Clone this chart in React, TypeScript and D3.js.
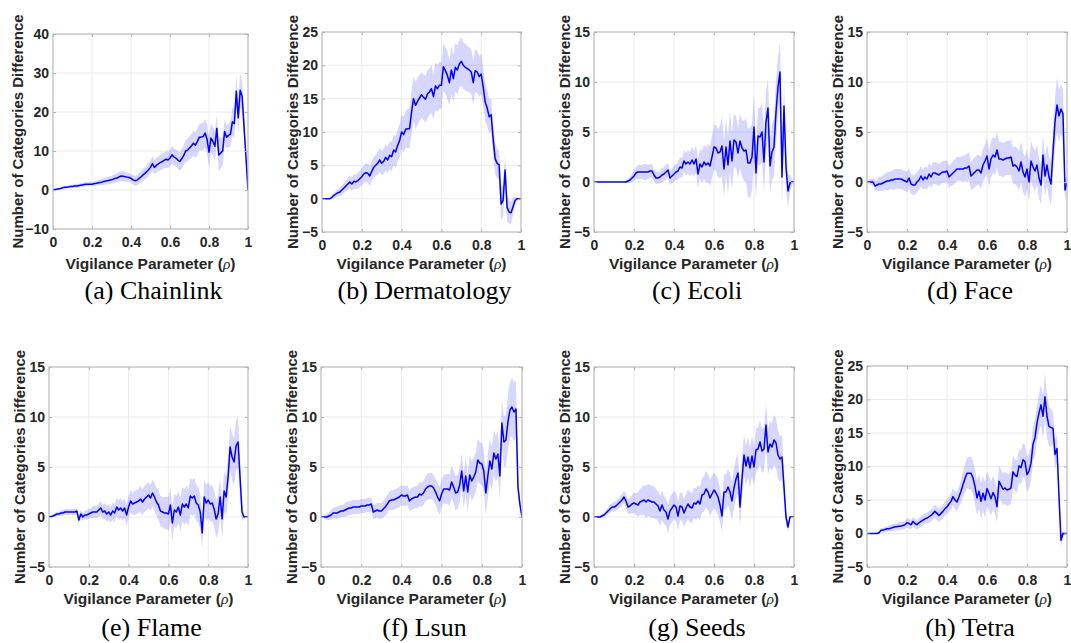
import React, { useEffect, useRef } from 'react';
import * as d3 from 'd3';

// vigilance grid, 0..1 in steps of 0.01
const rho = d3.range(0, 101).map(i => i / 100);

const xTicks = [0, 0.2, 0.4, 0.6, 0.8, 1];

// mean difference and std for each dataset
const chainlinkMean = [
  0, 0.1, 0.2, 0.3, 0.4, 0.6, 0.7, 0.7, 0.8, 0.9,
  0.9, 1.0, 1.0, 1.1, 1.2, 1.3, 1.4, 1.5, 1.5, 1.5,
  1.5, 1.6, 1.7, 1.8, 1.9, 2.0, 2.2, 2.3, 2.4, 2.5,
  2.6, 2.8, 3.0, 3.1, 3.4, 3.6, 3.5, 3.4, 3.3, 3.2,
  3.0, 2.6, 2.4, 2.5, 2.9, 3.3, 3.8, 4.2, 4.7, 5.2,
  5.8, 6.8, 5.8, 6.3, 6.7, 7.0, 7.3, 7.6, 7.9, 7.7,
  8.2, 9.0, 8.5, 8.2, 7.7, 7.3, 8.0, 8.8, 10.0, 10.2,
  10.8, 11.3, 12.0, 11.5, 12.4, 13.5, 13.6, 13.7, 14.6, 13.0,
  9.7, 13.3, 12.5, 11.2, 15.8, 9.0, 9.5, 10.0, 15.0, 13.5,
  14.0, 14.3, 17.5, 17.0, 25.3, 18.5, 25.6, 24.0, 16.0, 8.0,
  0,
];
const chainlinkStd = [
  0, 0.1, 0.2, 0.3, 0.3, 0.3, 0.4, 0.4, 0.4, 0.4,
  0.4, 0.4, 0.5, 0.5, 0.5, 0.5, 0.5, 0.5, 0.5, 0.5,
  0.5, 0.6, 0.6, 0.7, 0.7, 0.8, 0.8, 0.9, 0.9, 1.0,
  1.0, 1.1, 1.1, 1.2, 1.2, 1.3, 1.3, 1.2, 1.2, 1.1,
  1.1, 1.2, 1.3, 1.3, 1.4, 1.5, 1.5, 1.6, 1.6, 1.7,
  1.7, 1.8, 1.8, 1.9, 1.9, 2.0, 2.0, 2.0, 2.1, 2.1,
  2.2, 2.3, 2.2, 2.2, 2.3, 2.4, 2.5, 2.6, 2.8, 2.9,
  3.0, 3.1, 3.2, 3.3, 3.4, 3.4, 3.5, 3.5, 3.6, 3.8,
  4.0, 3.8, 3.6, 3.8, 3.5, 4.2, 4.0, 3.6, 3.2, 3.0,
  3.0, 3.2, 3.5, 3.8, 4.0, 4.2, 4.5, 4.0, 3.0, 1.5,
  0,
];

const dermatologyMean = [
  0, 0, 0, 0, 0, 0.2, 0.5, 0.7, 0.9, 1.0,
  1.3, 1.6, 1.9, 2.2, 2.5, 2.2, 2.6, 2.5, 2.7, 3.0,
  3.3, 3.7, 3.9, 3.8, 3.4, 4.1, 4.7, 5.0, 5.3, 5.8,
  5.3, 5.6, 6.2, 5.8, 6.5, 6.3, 7.3, 7.0, 8.0, 8.7,
  10.0, 9.6, 10.4, 10.5, 10.5, 13.0, 15.0, 14.0, 14.6, 15.1,
  15.6, 15.2, 14.9, 15.7, 16.0, 16.5, 15.3, 16.9, 16.5, 17.0,
  17.0, 19.8, 19.2, 18.5, 17.4, 19.3, 18.0, 19.7, 19.3, 20.2,
  20.6, 20.0, 19.7, 19.5, 19.3, 19.0, 17.4, 19.2, 19.0, 18.3,
  18.7, 16.8, 14.5, 13.6, 12.3, 12.6, 9.0, 6.0, 5.3, 5.1,
  -0.8, -0.3, 4.3, -1.3, -2.0, -2.1, -1.2, -0.3, 0, 0,
  0,
];
const dermatologyStd = [
  0, 0, 0, 0, 0.1, 0.3, 0.4, 0.5, 0.6, 0.6,
  0.7, 0.8, 0.8, 0.9, 1.0, 1.0, 1.1, 1.1, 1.2, 1.2,
  1.3, 1.3, 1.4, 1.4, 1.5, 1.5, 1.6, 1.6, 1.7, 1.8,
  1.8, 1.9, 2.0, 2.0, 2.1, 2.2, 2.3, 2.4, 2.4, 2.5,
  2.6, 2.7, 2.8, 2.9, 3.0, 3.2, 3.4, 3.5, 3.5, 3.5,
  3.4, 3.4, 3.5, 3.6, 3.5, 3.6, 3.4, 3.6, 3.5, 3.5,
  3.5, 3.6, 3.5, 3.6, 3.4, 3.6, 3.5, 3.6, 3.7, 3.6,
  3.6, 3.5, 3.5, 3.4, 3.4, 3.3, 3.3, 3.2, 3.2, 3.1,
  3.0, 2.9, 2.8, 2.7, 2.6, 2.5, 2.4, 2.3, 2.2, 2.1,
  2.5, 2.4, 2.2, 2.0, 1.8, 1.6, 1.3, 0.6, 0.1, 0,
  0,
];

const ecoliMean = [
  0, 0, 0, 0, 0, 0, 0, 0, 0, 0,
  0, 0, 0, 0, 0, 0, 0, 0.1, 0.2, 0.4,
  0.6, 0.9, 1.0, 1.0, 1.0, 1.0, 1.0, 1.0, 1.1, 1.1,
  0.7, 0.4, 0.4, 0.5, 0.7, 0.8, 1.0, 1.2, 0.4, 0.6,
  0.8, 1.0, 1.1, 1.5, 1.4, 2.1, 1.8, 2.0, 1.8, 2.2,
  1.8, 2.3, 0.8, 1.8, 1.5, 2.0, 1.7, 1.9, 1.6, 2.5,
  3.5, 3.4, 2.9, 3.0, 3.6, 1.3, 3.5, 1.7, 4.1, 2.1,
  4.2, 4.0, 2.9, 4.1, 3.4, 3.1, 3.2, 1.9, 1.9, 2.5,
  5.5, 0.9, 4.6, 4.5, 5.0, 2.0, 6.0, 7.4, 1.6, 3.0,
  3.5, 7.0, 9.5, 11.0, 0.5, 7.6, 1.5, -0.9, -0.1, 0,
  0,
];
const ecoliStd = [
  0, 0, 0, 0, 0, 0, 0, 0, 0, 0,
  0, 0, 0, 0, 0, 0, 0.1, 0.2, 0.3, 0.4,
  0.5, 0.6, 0.7, 0.7, 0.7, 0.8, 0.8, 0.7, 0.7, 0.7,
  0.6, 0.6, 0.6, 0.6, 0.7, 0.7, 0.8, 0.7, 0.7, 0.7,
  0.8, 0.8, 0.9, 1.0, 1.0, 1.1, 1.1, 1.2, 1.2, 1.3,
  1.3, 1.4, 1.4, 1.5, 1.6, 1.7, 1.8, 1.9, 2.0, 2.1,
  2.2, 2.3, 2.4, 2.6, 3.0, 2.8, 2.8, 2.9, 3.0, 2.8,
  2.6, 2.6, 2.5, 2.7, 2.8, 3.0, 3.2, 3.4, 3.5, 3.3,
  3.3, 2.6, 2.8, 2.9, 3.0, 3.1, 3.0, 3.0, 2.8, 2.8,
  2.9, 3.0, 3.0, 3.0, 2.6, 2.5, 2.2, 1.7, 0.8, 0.3,
  0,
];

const faceMean = [
  0, 0, 0, 0, -0.4, -0.3, -0.2, -0.2, -0.1, 0,
  0.1, 0.1, 0.2, 0.2, 0.3, 0.3, 0.3, 0.3, 0.2, 0.1,
  0, 0.4, -0.2, -0.3, -0.3, 0, 0.2, 0.6, 0.2, 0.5,
  0.3, 0.8, 0.5, 0.9, 0.9, 0.8, 0.7, 0.9, 1.0, 1.0,
  1.1, 0.5, 0.7, 0.9, 1.1, 1.3, 1.3, 1.3, 1.3, 1.4,
  1.4, 1.6, 0.6, 0.8, 1.0, 1.2, 1.2, 0.9, 1.7, 2.1,
  2.6, 1.3, 2.3, 2.7, 2.5, 3.2, 2.3, 2.3, 2.2, 2.3,
  2.4, 2.4, 2.5, 1.6, 1.7, 1.5, 1.1, 2.0, 1.0, 0.5,
  1.3, 0, 2.1, 1.5, 1.1, 1.7, 0.4, -0.3, 2.7, 0.6,
  1.7, 0.5, -0.2, 3.0, 6.0, 7.7, 6.6, 7.3, 6.8, -0.8,
  -0.1,
];
const faceStd = [
  0, 0.2, 0.3, 0.4, 0.5, 0.6, 0.7, 0.7, 0.8, 0.8,
  0.9, 0.9, 0.9, 1.0, 1.0, 1.0, 1.0, 1.0, 1.0, 1.0,
  1.0, 1.0, 1.0, 1.0, 1.0, 1.0, 1.0, 1.0, 1.0, 1.1,
  1.1, 1.1, 1.1, 1.1, 1.1, 1.1, 1.1, 1.1, 1.1, 1.1,
  1.1, 1.1, 1.1, 1.2, 1.2, 1.2, 1.2, 1.2, 1.3, 1.3,
  1.4, 1.4, 1.4, 1.5, 1.5, 1.5, 1.5, 1.6, 1.6, 1.7,
  1.8, 1.8, 1.8, 1.8, 1.8, 1.8, 1.7, 1.7, 1.7, 1.7,
  1.7, 1.7, 1.8, 1.8, 1.9, 1.9, 2.0, 2.0, 2.0, 2.0,
  2.0, 2.0, 2.0, 2.0, 2.0, 2.0, 2.0, 2.0, 2.0, 2.0,
  2.1, 2.1, 2.2, 2.3, 2.5, 2.7, 2.6, 2.5, 2.4, 1.2,
  0.6,
];

const flameMean = [
  0, 0.05, 0.1, 0.2, 0.3, 0.3, 0.4, 0.4, 0.5, 0.5,
  0.5, 0.5, 0.5, 0.5, 0.6, -0.3, 0.3, 0, 0.2, 0.2,
  0.3, 0.4, 0.5, 0.5, 0.5, 0.7, 0.9, 0.5, 0.6, 0.3,
  0.5, 0.2, 0.6, 0.4, 1.0, 0.7, 0.9, 0.6, 0.9, 0.2,
  1.0, 1.6, 1.3, 1.4, 1.5, 1.6, 1.8, 1.5, 1.8, 2.0,
  2.2, 1.9, 2.4, 2.0, 1.5, 1.2, 0.6, 0.5, 0.4, 0.4,
  0.3, 1.2, -0.6, 0.7, 0.5, 1.0, 0.2, 1.3, 1.0, 1.3,
  0.9, 2.1, 1.9, 2.1, 1.4, 1.2, 0.5, -1.6, 2.0, 1.4,
  1.7, 1.3, 1.4, 0.8, -0.2, 0.3, 2.0, -0.2, 2.6, 2.0,
  4.0, 7.0, 6.0, 5.5, 7.1, 7.5, 4.0, 0.5, 0, 0,
  0,
];
const flameStd = [
  0, 0.1, 0.1, 0.2, 0.2, 0.2, 0.3, 0.3, 0.3, 0.3,
  0.3, 0.3, 0.3, 0.3, 0.3, 0.4, 0.4, 0.4, 0.4, 0.5,
  0.5, 0.5, 0.6, 0.6, 0.6, 0.7, 0.7, 0.7, 0.8, 0.8,
  0.8, 0.8, 0.9, 0.9, 0.9, 1.0, 1.0, 1.0, 1.0, 1.1,
  1.1, 1.1, 1.1, 1.2, 1.2, 1.2, 1.3, 1.3, 1.3, 1.3,
  1.3, 1.3, 1.3, 1.4, 1.4, 1.5, 1.5, 1.5, 1.6, 1.6,
  1.7, 1.7, 1.7, 1.6, 1.6, 1.6, 1.7, 1.7, 1.8, 1.8,
  1.8, 1.8, 1.8, 1.8, 1.8, 1.8, 1.7, 1.5, 1.8, 1.8,
  1.8, 1.8, 1.8, 1.8, 1.9, 1.9, 1.9, 1.9, 2.0, 2.0,
  2.1, 2.2, 2.3, 2.4, 2.5, 2.6, 2.0, 1.0, 0, 0,
  0,
];

const lsunMean = [
  0, 0, 0, 0, 0.1, 0.2, 0.4, 0.4, 0.4, 0.5,
  0.6, 0.6, 0.7, 0.8, 0.9, 0.9, 1.0, 1.0, 1.0, 1.0,
  1.1, 1.1, 1.1, 1.2, 1.2, 1.3, 0.5, 0.6, 0.7, 0.6,
  0.6, 0.8, 1.0, 1.3, 1.6, 1.7, 1.7, 1.8, 1.9, 2.0,
  2.2, 2.1, 2.1, 2.2, 1.6, 1.8, 1.9, 2.0, 2.0, 2.3,
  2.2, 2.4, 2.8, 3.0, 3.1, 3.1, 2.9, 2.5, 2.0, 1.6,
  2.3, 2.8, 2.8, 2.8, 2.7, 3.5, 3.0, 2.4, 2.5, 3.2,
  4.6, 2.6, 4.1, 2.5, 4.2, 3.6, 4.0, 4.5, 5.7, 5.4,
  5.3, 4.6, 2.4, 4.1, 5.6, 4.8, 6.4, 5.8, 6.3, 4.1,
  9.4, 7.5, 7.7, 9.5, 10.7, 11.0, 10.5, 10.8, 3.0, 1.2,
  0,
];
const lsunStd = [
  0, 0.1, 0.2, 0.3, 0.4, 0.5, 0.5, 0.6, 0.6, 0.6,
  0.6, 0.6, 0.7, 0.7, 0.7, 0.7, 0.7, 0.7, 0.7, 0.7,
  0.7, 0.7, 0.7, 0.7, 0.7, 0.7, 0.7, 0.7, 0.7, 0.8,
  0.8, 0.8, 0.9, 0.9, 0.9, 1.0, 1.0, 1.0, 1.0, 1.0,
  1.0, 1.0, 1.0, 1.0, 1.0, 1.1, 1.1, 1.1, 1.1, 1.2,
  1.2, 1.2, 1.2, 1.3, 1.3, 1.3, 1.3, 1.3, 1.3, 1.4,
  1.4, 1.4, 1.5, 1.5, 1.6, 1.6, 1.6, 1.7, 1.7, 1.7,
  1.8, 1.8, 1.8, 1.9, 1.9, 2.0, 2.0, 2.0, 2.1, 2.1,
  2.1, 2.1, 2.2, 2.2, 2.2, 2.2, 2.3, 2.3, 2.3, 2.3,
  2.4, 2.5, 2.6, 2.7, 2.8, 2.9, 3.0, 2.8, 1.2, 0.5,
  0,
];

const seedsMean = [
  0, 0, 0, 0, 0.1, 0.2, 0.4, 0.6, 0.8, 1.0,
  1.0, 1.1, 1.3, 1.5, 1.7, 2.0, 1.6, 1.0, 1.1, 1.3,
  1.4, 1.3, 1.2, 1.5, 1.6, 1.7, 1.5, 1.7, 1.6, 1.5,
  1.5, 1.3, 1.1, 0.6, 1.2, 0.7, 0.5, -0.2, 0.6, 0.9,
  1.2, 1.0, 0.1, 1.1, 1.0, 0.4, 0.9, 1.3, 1.0, 0.9,
  1.4, 1.3, 1.6, 1.3, 2.2, 2.3, 2.8, 2.5, 1.9, 2.3,
  2.7, 2.4, 2.0, 1.2, 0.1, 2.5, 2.5, 3.0, 2.5, 1.6,
  2.9, 3.8, 4.4, 1.0, 3.8, 6.2, 5.1, 6.0, 4.9, 6.1,
  5.0, 6.7, 6.8, 7.5, 6.6, 6.8, 9.2, 6.5, 7.3, 7.0,
  7.7, 7.4, 6.2, 5.8, 6.0, 3.0, 0, -1.0, 0, 0,
  0,
];
const seedsStd = [
  0, 0, 0.1, 0.1, 0.2, 0.2, 0.3, 0.3, 0.4, 0.4,
  0.5, 0.5, 0.5, 0.6, 0.6, 0.6, 0.7, 0.7, 0.8, 0.9,
  1.0, 1.1, 1.2, 1.3, 1.4, 1.5, 1.6, 1.6, 1.6, 1.6,
  1.6, 1.5, 1.5, 1.5, 1.5, 1.4, 1.4, 1.4, 1.4, 1.4,
  1.4, 1.4, 1.4, 1.4, 1.4, 1.4, 1.4, 1.5, 1.5, 1.5,
  1.5, 1.6, 1.6, 1.7, 1.7, 1.8, 1.8, 1.8, 1.8, 1.8,
  1.8, 1.8, 1.8, 1.7, 1.6, 1.7, 1.8, 1.8, 1.9, 1.9,
  2.0, 2.0, 2.0, 2.0, 2.0, 2.0, 2.0, 2.0, 2.0, 2.0,
  2.0, 2.1, 2.1, 2.2, 2.2, 2.2, 2.2, 2.3, 2.3, 2.4,
  2.5, 2.5, 2.4, 2.3, 2.2, 1.5, 0.8, 0.5, 0, 0,
  0,
];

const tetraMean = [
  0, 0, 0, 0, 0, 0, 0.1, 0.5, 0.5, 0.6,
  0.7, 0.7, 0.8, 0.9, 1.0, 1.0, 1.1, 1.1, 1.2, 1.3,
  1.6, 1.5, 1.3, 1.8, 1.5, 1.3, 1.6, 1.8, 2.0, 2.2,
  2.3, 2.5, 2.7, 3.0, 3.3, 3.0, 2.7, 3.0, 3.3, 3.7,
  4.0, 4.4, 4.8, 5.5, 5.0, 4.7, 5.5, 6.3, 7.3, 8.2,
  9.0, 9.0, 9.0, 8.3, 7.0, 5.3, 6.3, 4.8, 6.0, 5.0,
  6.7, 6.0, 5.2, 6.1, 5.5, 4.0, 7.8, 7.2, 6.6, 6.8,
  6.5, 6.6, 6.8, 9.2, 8.7, 8.5, 10.1, 9.8, 11.0, 10.7,
  8.8, 9.3, 10.5, 13.3, 14.3, 16.5, 18.0, 19.2, 17.5, 20.4,
  17.5, 16.0, 15.8, 15.7, 11.8, 12.7, 5.5, -1.0, 0, 0,
  0,
];
const tetraStd = [
  0, 0, 0, 0, 0, 0.1, 0.2, 0.3, 0.3, 0.4,
  0.4, 0.4, 0.5, 0.5, 0.5, 0.5, 0.6, 0.6, 0.6, 0.6,
  0.7, 0.7, 0.7, 0.7, 0.7, 0.7, 0.7, 0.8, 0.8, 0.8,
  0.8, 0.9, 0.9, 0.9, 1.0, 1.0, 1.0, 1.0, 1.0, 1.1,
  1.1, 1.2, 1.2, 1.3, 1.3, 1.4, 1.5, 1.7, 1.9, 2.1,
  2.3, 2.4, 2.5, 2.5, 2.6, 2.6, 2.6, 2.7, 2.6, 2.6,
  2.6, 2.5, 2.5, 2.5, 2.5, 2.4, 2.4, 2.4, 2.4, 2.4,
  2.4, 2.4, 2.4, 2.4, 2.4, 2.4, 2.5, 2.5, 2.5, 2.5,
  2.6, 2.6, 2.6, 2.6, 2.7, 2.7, 2.8, 3.0, 3.2, 3.5,
  3.2, 3.0, 2.8, 2.5, 2.2, 2.0, 1.6, 1.0, 0.3, 0,
  0,
];

// subplot placement: [left, top, right, bottom] of each axes box
const panels = [
  { caption: '(a) Chainlink', mean: chainlinkMean, std: chainlinkStd, yDomain: [-10, 40], yStep: 10, box: [53, 34, 248, 229] },
  { caption: '(b) Dermatology', mean: dermatologyMean, std: dermatologyStd, yDomain: [-5, 25], yStep: 5, box: [322, 32, 521, 232] },
  { caption: '(c) Ecoli', mean: ecoliMean, std: ecoliStd, yDomain: [-5, 15], yStep: 5, box: [594, 32, 794, 232] },
  { caption: '(d) Face', mean: faceMean, std: faceStd, yDomain: [-5, 15], yStep: 5, box: [867, 32, 1067, 232] },
  { caption: '(e) Flame', mean: flameMean, std: flameStd, yDomain: [-5, 15], yStep: 5, box: [49, 367, 248, 567] },
  { caption: '(f) Lsun', mean: lsunMean, std: lsunStd, yDomain: [-5, 15], yStep: 5, box: [321, 367, 522, 567] },
  { caption: '(g) Seeds', mean: seedsMean, std: seedsStd, yDomain: [-5, 15], yStep: 5, box: [594, 367, 794, 567] },
  { caption: '(h) Tetra', mean: tetraMean, std: tetraStd, yDomain: [-5, 25], yStep: 5, box: [867, 366, 1067, 567] },
];

const rowXLabelY = [263.5, 599];
const rowCaptionY = [299, 636];

const sans = '"Liberation Sans", Arial, Helvetica, sans-serif';
const serif = '"Liberation Serif", "Times New Roman", Times, serif';

const App = () => {
  const svgRef = useRef<SVGSVGElement>(null);

  useEffect(() => {
    if (!svgRef.current) return;
    const svg = d3.select(svgRef.current);
    svg.selectAll('*').remove();

    panels.forEach((p, i) => {
      const [x0, y0, x1, y1] = p.box;
      const row = i < 4 ? 0 : 1;
      const x = d3.scaleLinear().domain([0, 1]).range([x0, x1]);
      const y = d3.scaleLinear().domain(p.yDomain).range([y1, y0]);
      const yTicks = d3.range(p.yDomain[0], p.yDomain[1] + 0.001, p.yStep);

      const g = svg.append('g');
      const clipId = `clip-${i}`;
      g.append('clipPath').attr('id', clipId)
        .append('rect')
        .attr('x', x0).attr('y', y0)
        .attr('width', x1 - x0).attr('height', y1 - y0);

      // grid
      g.append('g').selectAll('line.gx').data(xTicks).enter().append('line')
        .attr('x1', d => x(d)).attr('x2', d => x(d))
        .attr('y1', y0).attr('y2', y1)
        .attr('stroke', '#ebebeb').attr('stroke-width', 1);
      g.append('g').selectAll('line.gy').data(yTicks).enter().append('line')
        .attr('x1', x0).attr('x2', x1)
        .attr('y1', d => y(d)).attr('y2', d => y(d))
        .attr('stroke', '#ebebeb').attr('stroke-width', 1);

      const pts = rho.map((r, k) => ({ r, m: p.mean[k], s: p.std[k] }));

      const band = d3.area<{ r: number; m: number; s: number }>()
        .x(d => x(d.r))
        .y0(d => y(d.m - d.s))
        .y1(d => y(d.m + d.s));
      g.append('path')
        .datum(pts)
        .attr('clip-path', `url(#${clipId})`)
        .attr('d', band)
        .attr('fill', '#0000ff')
        .attr('fill-opacity', 0.16);

      const line = d3.line<{ r: number; m: number; s: number }>()
        .x(d => x(d.r))
        .y(d => y(d.m));
      g.append('path')
        .datum(pts)
        .attr('clip-path', `url(#${clipId})`)
        .attr('d', line)
        .attr('fill', 'none')
        .attr('stroke', '#0000ff')
        .attr('stroke-width', 1.5)
        .attr('stroke-linejoin', 'round');

      // axes (ticks point inward)
      const xAxis = g.append('g')
        .attr('transform', `translate(0,${y1})`)
        .call(d3.axisBottom(x).tickValues(xTicks).tickFormat(d3.format('~g'))
          .tickSizeInner(-3).tickSizeOuter(0).tickPadding(8));
      const yAxis = g.append('g')
        .attr('transform', `translate(${x0},0)`)
        .call(d3.axisLeft(y).tickValues(yTicks).tickFormat(d3.format('d'))
          .tickSizeInner(-3).tickSizeOuter(0).tickPadding(4));
      g.append('g')
        .attr('transform', `translate(0,${y0})`)
        .call(d3.axisTop(x).tickValues(xTicks).tickFormat(() => '')
          .tickSizeInner(-3).tickSizeOuter(0));
      g.append('g')
        .attr('transform', `translate(${x1},0)`)
        .call(d3.axisRight(y).tickValues(yTicks).tickFormat(() => '')
          .tickSizeInner(-3).tickSizeOuter(0));

      g.selectAll('.domain').remove();
      g.selectAll('.tick line').attr('stroke', '#b5b5b5');
      [xAxis, yAxis].forEach(a => a.selectAll('text')
        .attr('fill', '#262626')
        .style('font-family', sans)
        .style('font-weight', 'bold')
        .style('font-size', '14px'));

      // box
      g.append('rect')
        .attr('x', x0).attr('y', y0)
        .attr('width', x1 - x0).attr('height', y1 - y0)
        .attr('fill', 'none')
        .attr('stroke', '#b5b5b5').attr('stroke-width', 1);

      // x label
      const xl = g.append('text')
        .attr('x', (x0 + x1) / 2)
        .attr('y', rowXLabelY[row])
        .attr('dy', '0.35em')
        .attr('text-anchor', 'middle')
        .attr('fill', '#262626')
        .style('font-family', sans)
        .style('font-weight', 'bold')
        .style('font-size', '15.5px');
      xl.append('tspan').text('Vigilance Parameter (');
      xl.append('tspan').text('ρ')
        .style('font-family', serif)
        .style('font-style', 'italic')
        .style('font-weight', 'normal');
      xl.append('tspan').text(')');

      // y label
      const ylx = x0 - (i === 0 ? 35 : 29);
      g.append('text')
        .attr('transform', `translate(${ylx},${(y0 + y1) / 2}) rotate(-90)`)
        .attr('dy', '0.35em')
        .attr('text-anchor', 'middle')
        .attr('fill', '#262626')
        .style('font-family', sans)
        .style('font-weight', 'bold')
        .style('font-size', '15px')
        .text('Number of Categories Difference');

      // caption
      g.append('text')
        .attr('x', (x0 + x1) / 2 + 3)
        .attr('y', rowCaptionY[row])
        .attr('text-anchor', 'middle')
        .attr('fill', '#000')
        .style('font-family', serif)
        .style('font-size', '26px')
        .text(p.caption);
    });
  }, []);

  return (
    <svg
      ref={svgRef}
      width={1071}
      height={643}
      style={{ position: 'absolute', left: 0, top: 0, background: '#fff' }}
    />
  );
};

export default App;
